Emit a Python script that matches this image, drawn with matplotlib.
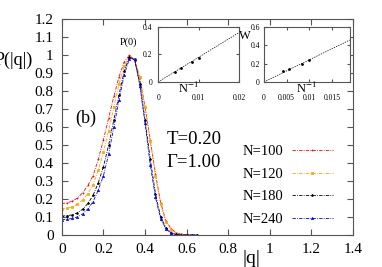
import numpy as np
import matplotlib
matplotlib.use("Agg")
import matplotlib.pyplot as plt

# Data
q = [0.0, 0.025, 0.05, 0.075, 0.1, 0.125, 0.15, 0.175, 0.2, 0.225, 0.25, 0.275,
     0.3, 0.325, 0.35, 0.375, 0.4, 0.425, 0.45, 0.475, 0.5, 0.525, 0.55, 0.575,
     0.6, 0.625, 0.65]
p_n100 = [0.175, 0.178, 0.188, 0.205, 0.235, 0.275, 0.33, 0.42, 0.53, 0.65, 0.77, 0.88,
          0.96, 1.0, 0.97, 0.87, 0.71, 0.53, 0.34, 0.18, 0.08, 0.035, 0.012, 0.004,
          0.001, 0.0, 0.0]
p_n120 = [0.145, 0.148, 0.155, 0.17, 0.195, 0.23, 0.28, 0.36, 0.46, 0.58, 0.71, 0.84,
          0.94, 0.99, 0.98, 0.88, 0.71, 0.52, 0.33, 0.17, 0.07, 0.03, 0.01, 0.003,
          0.001, 0.0, 0.0]
p_n180 = [0.105, 0.107, 0.112, 0.123, 0.143, 0.175, 0.22, 0.29, 0.38, 0.50, 0.64, 0.78,
          0.91, 0.99, 0.97, 0.84, 0.64, 0.42, 0.23, 0.10, 0.04, 0.012, 0.003, 0.001,
          0.0, 0.0, 0.0]
p_n240 = [0.085, 0.087, 0.092, 0.10, 0.117, 0.145, 0.185, 0.25, 0.33, 0.45, 0.60, 0.75,
          0.89, 0.98, 0.98, 0.83, 0.62, 0.39, 0.21, 0.09, 0.035, 0.01, 0.002, 0.0,
          0.0, 0.0, 0.0]
labels = ["N=100", "N=120", "N=180", "N=240"]
colors = ["#ff0000", "#ffa500", "#000000", "#0000ff"]
markers = ["+", "s", "*", "^"]

# insets
inv_n = [1 / 240, 1 / 180, 1 / 120, 1 / 100]
p0 = [0.075, 0.10, 0.145, 0.175]
p0_fit_x = [0.0, 0.02]
p0_fit = [0.0, 0.36]
w = [0.12, 0.14, 0.20, 0.24]
w_fit_x = [0.0, 0.019]
w_fit = [0.0, 0.458]

plt.rcParams["font.family"] = ["Liberation Serif", "DejaVu Serif"]
plt.rcParams["mathtext.fontset"] = "stix"

fig = plt.figure(figsize=(3.82, 2.67), dpi=100)
ax = fig.add_axes([0.162, 0.120, 0.762, 0.809])

for y, lab, c, m in zip([p_n100, p_n120, p_n180, p_n240], labels, colors, markers):
    ax.plot(q, y, color=c, lw=0.6, ls=(0, (4, 1.5, 1, 1.5)), marker=m, ms=1.6,
            mew=0.5, label=lab)

ax.set_xlim(0, 1.4)
ax.set_ylim(0, 1.2)
ax.set_xticks(np.arange(0, 1.41, 0.2))
ax.set_xticklabels(["0", "0.2", "0.4", "0.6", "0.8", "1", "1.2", "1.4"])
ax.set_yticks(np.arange(0, 1.21, 0.1))
ax.set_yticklabels(["0", "0.1", "0.2", "0.3", "0.4", "0.5", "0.6", "0.7", "0.8",
                    "0.9", "1", "1.1", "1.2"])
ax.tick_params(direction="in", top=True, right=True, labelsize=11, length=4,
               color="#555555", pad=6)
for s in ax.spines.values():
    s.set_color("#555555")

fig.text(0.035, 0.775, "P(|q|)", fontsize=13, ha="center", va="center")
fig.text(0.657, 0.03, "|q|", fontsize=14, ha="center", va="center")
ax.text(0.065, 0.65, "(b)", fontsize=13, va="center")
ax.text(0.505, 0.528, "T=0.20", fontsize=13.5, va="center")
ax.text(0.505, 0.405, "Γ=1.00", fontsize=13.5, va="center")

ax.legend(loc="lower right", bbox_to_anchor=(0.931, 0.04), frameon=False,
          fontsize=10.5, markerfirst=False, handlelength=2.8, labelspacing=0.66,
          handletextpad=0.6, borderpad=0, borderaxespad=0, numpoints=1)

# inset 1: P(0) vs 1/N
ins1 = fig.add_axes([0.414, 0.693, 0.212, 0.206])
ins1.plot(p0_fit_x, p0_fit, color="k", lw=0.5, ls=(0, (2, 1.5)))
ins1.plot(inv_n, p0, "k.", ms=2)
ins1.set_xlim(0, 0.02)
ins1.set_ylim(0, 0.4)
ins1.set_xticks([0, 0.01, 0.02])
ins1.set_xticklabels(["0", "0.01", "0.02"])
ins1.set_yticks([0, 0.2, 0.4])
ins1.set_yticklabels(["0", "0.2", "0.4"])
ins1.tick_params(direction="in", top=True, right=True, labelsize=5.5, length=2,
                 color="#555555")
ins1.tick_params(axis="x", pad=9)
ins1.tick_params(axis="y", pad=4)
for s in ins1.spines.values():
    s.set_color("#555555")
ins1.text(0.37, -0.11, "N$^{-1}$", fontsize=9, ha="center", va="center",
          transform=ins1.transAxes)
ins1.text(-0.37, 0.73, "P(0)", fontsize=7.5, ha="center", va="center",
          transform=ins1.transAxes)

# inset 2: W vs 1/N
ins2 = fig.add_axes([0.691, 0.693, 0.225, 0.206])
ins2.plot(w_fit_x, w_fit, color="k", lw=0.5, ls=(0, (2, 1.5)))
ins2.plot(inv_n, w, "k.", ms=2)
ins2.set_xlim(0, 0.019)
ins2.set_ylim(0, 0.6)
ins2.set_xticks([0, 0.005, 0.01, 0.015])
ins2.set_xticklabels(["0", "0.005", "0.01", "0.015"])
ins2.set_yticks([0, 0.2, 0.4, 0.6])
ins2.set_yticklabels(["0", "0.2", "0.4", "0.6"])
ins2.tick_params(direction="in", top=True, right=True, labelsize=5.5, length=2,
                 color="#555555")
ins2.tick_params(axis="x", pad=9)
ins2.tick_params(axis="y", pad=3)
for s in ins2.spines.values():
    s.set_color("#555555")
ins2.text(0.49, -0.11, "N$^{-1}$", fontsize=9, ha="center", va="center",
          transform=ins2.transAxes)
ins2.text(-0.22, 0.84, "W", fontsize=9, ha="center", va="center",
          transform=ins2.transAxes)

fig.savefig("out.png", dpi=100)
